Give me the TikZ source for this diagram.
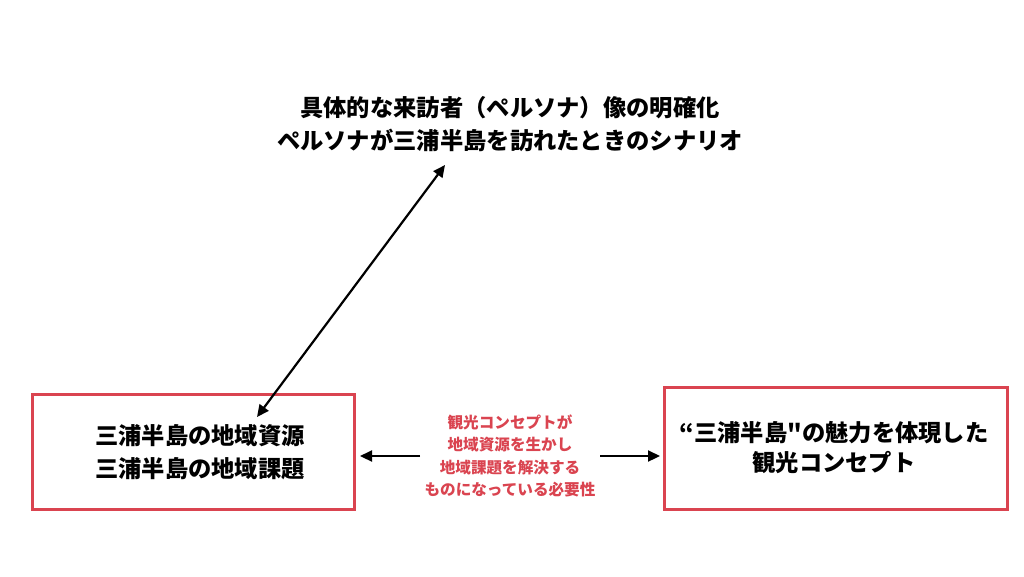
\documentclass[tikz,border=0pt]{standalone}
\usepackage{fontspec}
\newfontfamily\jp{Noto Sans CJK JP}
\usetikzlibrary{arrows.meta}
\definecolor{boxred}{RGB}{218,68,80}
\tikzset{
  frame/.style={draw=boxred, line width=2.6pt, inner sep=0pt},
  bigtext/.style={font=\jp\bfseries\fontsize{23.3}{33}\selectfont, align=center, inner sep=0pt, text=black},
  redtext/.style={font=\jp\bfseries\fontsize{15.6}{22.5}\selectfont, align=center, inner sep=0pt, text=boxred},
  link/.style={line width=2.2pt, {Triangle[length=12pt,width=11pt]}-{Triangle[length=12pt,width=11pt]}},
  onelink/.style={line width=2.2pt, -{Triangle[length=12pt,width=11pt]}}
}
\begin{document}
\begin{tikzpicture}[x=1pt,y=-1pt]
\useasboundingbox[fill=white] (0,0) rectangle (1024,576);
% boxes
\node[frame, minimum width=322pt, minimum height=115pt] (lbox) at (193.5,452) {};
\node[frame, minimum width=343pt, minimum height=122pt] (rbox) at (836,448.5) {};
% texts
\node[bigtext, font=\jp\bfseries\fontsize{23.3}{33}\selectfont] (toptext) at (510,124) {具体的な来訪者（ペルソナ）像の明確化\\ペルソナが三浦半島を訪れたときのシナリオ};
\node[bigtext, font=\jp\bfseries\fontsize{23.3}{32.5}\selectfont] (ltext) at (200,452) {三浦半島の地域資源\\三浦半島の地域課題};
\node[bigtext, font=\jp\bfseries\fontsize{23.3}{30}\selectfont] (rtext) at (834,448) {“三浦半島"の魅力を体現した\\観光コンセプト};
\node[redtext] (mid) at (510,456) {観光コンセプトが\\地域資源を生かし\\地域課題を解決する\\ものになっている必要性};
% connectors
\coordinate (dtop) at (445,165);
\coordinate (dbot) at (257,417);
\draw[link] (dbot) -- (dtop);
\coordinate (la) at (420,456);
\coordinate (lb) at (360,456);
\coordinate (ra) at (600,456);
\coordinate (rb) at (660,456);
\draw[onelink] (la) -- (lb);
\draw[onelink] (ra) -- (rb);
\end{tikzpicture}
\end{document}
